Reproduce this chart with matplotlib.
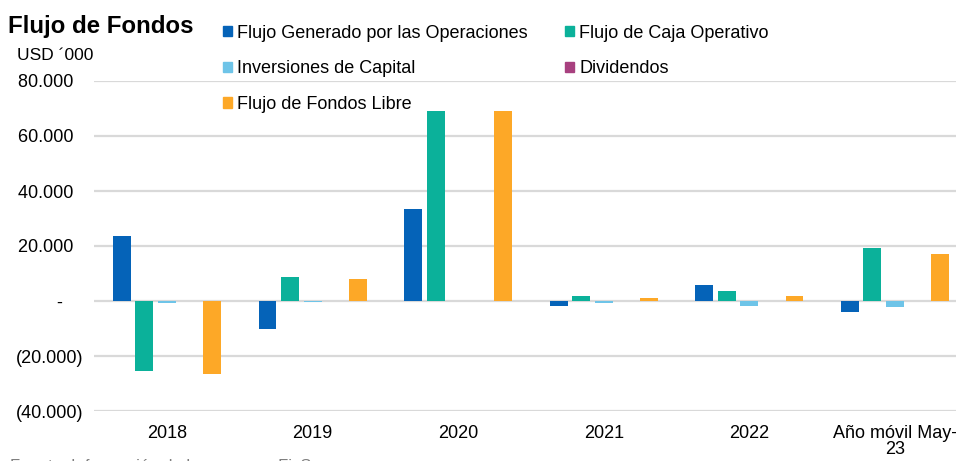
import numpy as np
import matplotlib.pyplot as plt
from matplotlib.patches import Patch

plt.rcParams['font.family'] = ['Liberation Sans', 'DejaVu Sans']

# datos (USD miles)
categorias = ['2018', '2019', '2020', '2021', '2022', 'Año móvil May-\n23']
flujo_generado = [23700, -10200, 33600, -1800, 5800, -4100]
flujo_caja_op = [-25600, 8600, 69200, 1900, 3700, 19400]
inversiones = [-900, -500, 0, -900, -1800, -2300]
dividendos = [0, 0, 0, 0, 0, 0]
flujo_libre = [-26500, 8100, 69200, 1200, 2000, 17200]

series = ['Flujo Generado por las Operaciones', 'Flujo de Caja Operativo',
          'Inversiones de Capital', 'Dividendos', 'Flujo de Fondos Libre']
colores = ['#0563b8', '#0bb19a', '#6ec4e8', '#a8407f', '#fda827']

y_ticks = [-40000, -20000, 0, 20000, 40000, 60000, 80000]
y_labels = ['(40.000)', '(20.000)', '-    ', '20.000  ', '40.000  ', '60.000  ', '80.000  ']

fig = plt.figure(figsize=(9.56, 4.61), dpi=100)
ax = fig.add_axes([94.2 / 956, 50 / 461, 873.6 / 956, 330 / 461])

x = np.arange(len(categorias))
paso = 0.155
ancho = 0.123
valores = [flujo_generado, flujo_caja_op, inversiones, dividendos, flujo_libre]
for i, (vals, col) in enumerate(zip(valores, colores)):
    ax.bar(x + (i - 2) * paso, vals, width=ancho, color=col, zorder=3)

ax.set_xlim(-0.5, len(categorias) - 0.5)
ax.set_ylim(-40000, 80000)
ax.set_yticks(y_ticks)
ax.set_yticklabels(y_labels, fontsize=13)
ax.set_xticks(x)
ax.set_xticklabels(categorias, fontsize=13, linespacing=0.95)
ax.tick_params(axis='both', length=0)
ax.tick_params(axis='y', pad=8)
ax.tick_params(axis='x', pad=10)
ax.grid(axis='y', color='#d9d9d9', linewidth=1.6, zorder=0)
for s in ax.spines.values():
    s.set_visible(False)

fig.text(8 / 956, 1 - 27 / 461, 'Flujo de Fondos', fontsize=17.3, fontweight='bold',
         va='center', ha='left')
fig.text(17 / 956, 1 - 55 / 461, 'USD \u00b4000', fontsize=12.5, va='center', ha='left')
fig.text(10 / 956, 2 / 461, 'Fuente: Información de la empresa, FixScr', fontsize=12,
         color='#7f7f7f', va='top', ha='left')

handles = [Patch(color=c) for c in colores]
orden = [0, 2, 4, 1, 3]
fig.legend([handles[i] for i in orden], [series[i] for i in orden],
           ncol=2, frameon=False, fontsize=13,
           loc='upper left', bbox_to_anchor=(210 / 956, 1 - 12 / 461),
           handlelength=0.5, handleheight=0.5, handletextpad=0.3,
           labelspacing=1.03, columnspacing=2.05, borderpad=0.2)

fig.savefig('out.png', dpi=100)
